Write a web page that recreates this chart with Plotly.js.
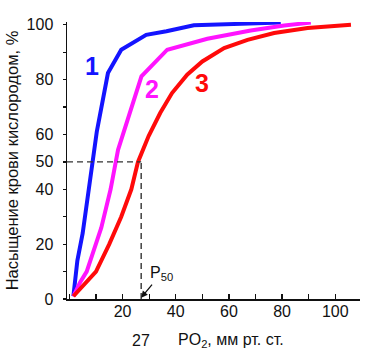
<!DOCTYPE html>
<html>
<head>
<meta charset="utf-8">
<script src="https://cdn.plot.ly/plotly-3.0.1.min.js"></script>
<style>html,body{margin:0;padding:0;background:#fff;}#chart{width:382px;height:352px;}</style>
</head>
<body>
<div id="chart"></div>
<script>
// Curve 1 (blue)
const x1 = [1.5, 3, 5, 7.3, 9.1, 10.3, 14.5, 19.5, 28.9, 36.5, 46.8, 63, 79.5];
const y1 = [1, 14, 24, 40, 54, 61, 82.4, 90.9, 96.3, 97.6, 99.8, 100.4, 100.8];
// Curve 2 (magenta)
const x2 = [1.5, 4, 6.5, 9.8, 12, 15.5, 17.6, 18.3, 27.1, 36.8, 51.9, 68.2, 80.8, 90.8];
const y2 = [1, 6, 10, 20, 26, 40, 50, 54.4, 81.2, 90.9, 94.9, 97.9, 99.7, 100.8];
// Curve 3 (red)
const x3 = [1.5, 4, 6.3, 10, 15, 19.5, 23.3, 25.8, 29.8, 34.2, 38.6, 44.3, 50, 58.2, 67, 77, 89.6, 105.9];
const y3 = [1, 3.6, 5.7, 10, 20, 30, 40, 50, 59.4, 67.9, 75.1, 81.8, 86.6, 91.5, 94.5, 97, 98.8, 100];

const xTickVals = [20, 40, 60, 80, 100];
const xTickText = ['20', '40', '60', '80', '100'];
const yTickVals = [0, 20, 40, 50, 60, 80, 100];
const yTickText = ['0', '20', '40', '50', '60', '80', '100'];
const minorStep = 10;

const p50 = 27;
const sat50 = 50;

const xRange = [-0.9, 109.3];
const yRange = [0, 101];

const font = 'Liberation Sans, Arial, sans-serif';

const traces = [
  {x: x1, y: y1, mode: 'lines', line: {color: '#1414ff', width: 4}, hoverinfo: 'skip'},
  {x: x2, y: y2, mode: 'lines', line: {color: '#ff14ff', width: 4}, hoverinfo: 'skip'},
  {x: x3, y: y3, mode: 'lines', line: {color: '#ff0a0a', width: 4}, hoverinfo: 'skip'}
];

const layout = {
  width: 382, height: 352,
  margin: {l: 67, r: 22, t: 22, b: 53},
  paper_bgcolor: '#ffffff', plot_bgcolor: '#ffffff',
  showlegend: false,
  font: {family: font, size: 16, color: '#111'},
  xaxis: {
    range: xRange, showgrid: false, zeroline: false,
    showline: true, linecolor: '#111', linewidth: 1.5,
    tickmode: 'array', tickvals: xTickVals, ticktext: xTickText,
    ticks: 'inside', ticklen: 5, tickwidth: 1.3, tickcolor: '#111',
    minor: {dtick: minorStep, tick0: 0, ticks: 'inside', ticklen: 5, tickwidth: 1.3, tickcolor: '#111', showgrid: false},
    tickfont: {family: font, size: 16, color: '#111'},
    ticklabelstandoff: -3
  },
  yaxis: {
    range: yRange, showgrid: false, zeroline: false,
    showline: true, linecolor: '#111', linewidth: 1.5,
    tickmode: 'array', tickvals: yTickVals, ticktext: yTickText,
    ticks: 'outside', ticklen: 3, tickwidth: 1.3, tickcolor: '#111',
    minor: {dtick: minorStep, tick0: 0, ticks: 'outside', ticklen: 3, tickwidth: 1.3, tickcolor: '#111', showgrid: false},
    tickfont: {family: font, size: 16, color: '#111'},
    ticklabelstandoff: 6,
    title: {text: 'Насыщение крови кислородом, %', font: {family: font, size: 16.5, color: '#111'}, standoff: 4}
  },
  shapes: [
    {type: 'line', xref: 'x', yref: 'y', x0: xRange[0], x1: p50, y0: sat50, y1: sat50,
     line: {color: '#333', width: 1.4, dash: '6px,4px'}},
    {type: 'line', xref: 'x', yref: 'y', x0: p50, x1: p50, y0: 0, y1: sat50,
     line: {color: '#333', width: 1.4, dash: '6px,4px'}}
  ],
  annotations: [
    {x: 8.5, y: 85, xref: 'x', yref: 'y', text: '<b>1</b>', showarrow: false,
     font: {family: font, size: 25, color: '#1414ff'}},
    {x: 31.2, y: 76.6, xref: 'x', yref: 'y', text: '<b>2</b>', showarrow: false,
     font: {family: font, size: 25, color: '#ff14ff'}},
    {x: 50, y: 78.6, xref: 'x', yref: 'y', text: '<b>3</b>', showarrow: false,
     font: {family: font, size: 25, color: '#ff0a0a'}},
    {x: p50, y: 0.5, xref: 'x', yref: 'y', text: 'P<sub>50</sub>', showarrow: true,
     ax: 20, ay: -24, arrowhead: 2, arrowsize: 1, arrowwidth: 1.3, arrowcolor: '#111', standoff: 0,
     font: {family: font, size: 16, color: '#111'}},
    {x: p50, y: 0, xref: 'x', yref: 'paper', yanchor: 'middle', yshift: -41, text: '27', showarrow: false,
     font: {family: font, size: 16, color: '#111'}},
    {x: 0.56, y: 0, xref: 'paper', yref: 'paper', yanchor: 'middle', yshift: -41, text: 'PO<sub>2</sub>, мм рт. ст.', showarrow: false,
     font: {family: font, size: 16, color: '#111'}}
  ]
};

Plotly.newPlot('chart', traces, layout, {staticPlot: true, displayModeBar: false});
</script>
</body>
</html>
